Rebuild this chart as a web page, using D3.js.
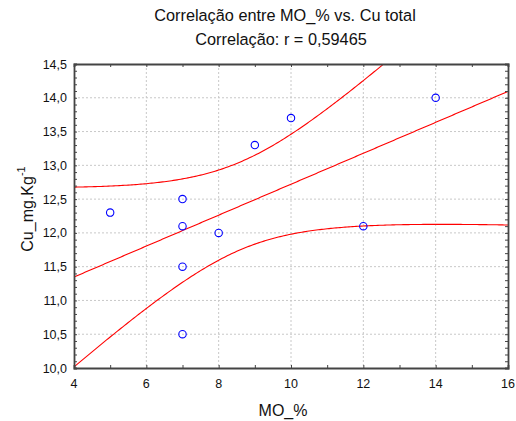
<!DOCTYPE html>
<html>
<head>
<meta charset="utf-8">
<script src="https://cdn.jsdelivr.net/npm/d3@7"></script>
<style>
  html, body { margin: 0; padding: 0; background: #fff; }
  svg { display: block; font-family: "Liberation Sans", Arial, sans-serif; }
</style>
</head>
<body>
<svg id="chart" width="516" height="421"></svg>
<script>
// Observations: organic matter (MO_%) vs. total copper (Cu mg/kg)
const moPct = [5, 7, 7, 7, 7, 8, 9, 10, 12, 14];
const cuTotal = [12.3, 12.5, 12.1, 11.5, 10.5, 12.0, 13.3, 13.7, 12.1, 14.0];

const xTicks = [4, 6, 8, 10, 12, 14, 16];
const yTicks = [10.0, 10.5, 11.0, 11.5, 12.0, 12.5, 13.0, 13.5, 14.0, 14.5];
const xDomain = [4, 16];
const yDomain = [10, 14.5];
const tCrit = 2.306; // Student t, 0.975 quantile, 8 d.f.

const titleLines = ["Correlação entre MO_% vs. Cu total", "Correlação: r = 0,59465"];

const svg = d3.select("#chart");
const m = { left: 74, right: 8, top: 64, bottom: 53 };
const W = 516, H = 421;
const x = d3.scaleLinear().domain(xDomain).range([m.left, W - m.right]);
const y = d3.scaleLinear().domain(yDomain).range([H - m.bottom, m.top]);

// Least-squares fit and 95% confidence band for the mean
const n = moPct.length;
const mx = d3.mean(moPct), my = d3.mean(cuTotal);
const sxx = d3.sum(moPct, v => (v - mx) ** 2);
const sxy = d3.sum(moPct, (v, i) => (v - mx) * (cuTotal[i] - my));
const slope = sxy / sxx, icpt = my - slope * mx;
const sse = d3.sum(moPct, (v, i) => (cuTotal[i] - (icpt + slope * v)) ** 2);
const s = Math.sqrt(sse / (n - 2));
const fit = xv => icpt + slope * xv;
const half = xv => tCrit * s * Math.sqrt(1 / n + (xv - mx) ** 2 / sxx);

const fmt = v => d3.format(".1f")(v).replace(".", ",");

// Grid
const grid = svg.append("g");
grid.selectAll(".gx").data(xTicks.slice(1, -1)).join("line")
  .attr("x1", d => x(d)).attr("x2", d => x(d))
  .attr("y1", m.top).attr("y2", H - m.bottom)
  .attr("stroke", "#c8c8c8").attr("stroke-dasharray", "2,2");
grid.selectAll(".gy").data(yTicks.slice(1, -1)).join("line")
  .attr("y1", d => y(d)).attr("y2", d => y(d))
  .attr("x1", m.left).attr("x2", W - m.right)
  .attr("stroke", "#c8c8c8").attr("stroke-dasharray", "2,2");

// Clip for curves
svg.append("clipPath").attr("id", "plot").append("rect")
  .attr("x", m.left).attr("y", m.top)
  .attr("width", W - m.left - m.right).attr("height", H - m.top - m.bottom);

const xs = d3.range(0, 241).map(i => xDomain[0] + (xDomain[1] - xDomain[0]) * i / 240);
const line = d3.line().x(d => x(d[0])).y(d => y(d[1]));
const curves = svg.append("g").attr("clip-path", "url(#plot)");
[v => fit(v), v => fit(v) + half(v), v => fit(v) - half(v)].forEach(f => {
  curves.append("path")
    .datum(xs.map(v => [v, f(v)]))
    .attr("d", line).attr("fill", "none")
    .attr("stroke", "#ff0000").attr("stroke-width", 1.1);
});

// Points
svg.append("g").selectAll("circle").data(moPct).join("circle")
  .attr("cx", d => x(d)).attr("cy", (d, i) => y(cuTotal[i]))
  .attr("r", 3.7).attr("fill", "none")
  .attr("stroke", "#0000ff").attr("stroke-width", 1.1);

// Axes (inward ticks on all four sides)
const minorX = d3.range(4, 16.001, 1);
const minorY = d3.range(0, 46).map(i => 10 + i * 0.1);
const ax = svg.append("g");
ax.append("g").attr("transform", `translate(0,${H - m.bottom})`)
  .call(d3.axisBottom(x).tickValues(minorX).tickSize(-3).tickFormat(""));
ax.append("g").attr("transform", `translate(0,${m.top})`)
  .call(d3.axisTop(x).tickValues(minorX).tickSize(-3).tickFormat(""));
ax.append("g").attr("transform", `translate(${m.left},0)`)
  .call(d3.axisLeft(y).tickValues(minorY).tickSize(-3).tickFormat(""));
ax.append("g").attr("transform", `translate(${W - m.right},0)`)
  .call(d3.axisRight(y).tickValues(minorY).tickSize(-3).tickFormat(""));
ax.selectAll(".domain").attr("stroke", "#444").attr("stroke-width", 1.8);
ax.selectAll(".tick line").attr("stroke", "#444");

// Tick labels
svg.append("g").selectAll("text").data(xTicks).join("text")
  .attr("x", d => x(d)).attr("y", H - m.bottom + 20)
  .attr("text-anchor", "middle").attr("font-size", 12.5).attr("fill", "#111")
  .text(d => d);
svg.append("g").selectAll("text").data(yTicks).join("text")
  .attr("x", m.left - 7).attr("y", d => y(d) + 4.5)
  .attr("text-anchor", "end").attr("font-size", 12.5).attr("fill", "#111")
  .text(d => fmt(d));

// Titles
svg.append("g").selectAll("text").data(titleLines).join("text")
  .attr("x", (d, i) => i === 0 ? 285 : 281).attr("y", (d, i) => 21 + i * 23.5)
  .attr("text-anchor", "middle").attr("font-size", 16.3).attr("fill", "#111")
  .text(d => d);

// Axis labels
svg.append("text").attr("x", 283).attr("y", 416)
  .attr("text-anchor", "middle").attr("font-size", 16).attr("fill", "#111")
  .text("MO_%");
const yl = svg.append("text")
  .attr("transform", "translate(33,209) rotate(-90)")
  .attr("text-anchor", "middle").attr("font-size", 16).attr("fill", "#111");
yl.append("tspan").text("Cu_mg.Kg");
yl.append("tspan").attr("dy", -8).attr("font-size", 11).text("-1");
</script>
</body>
</html>
